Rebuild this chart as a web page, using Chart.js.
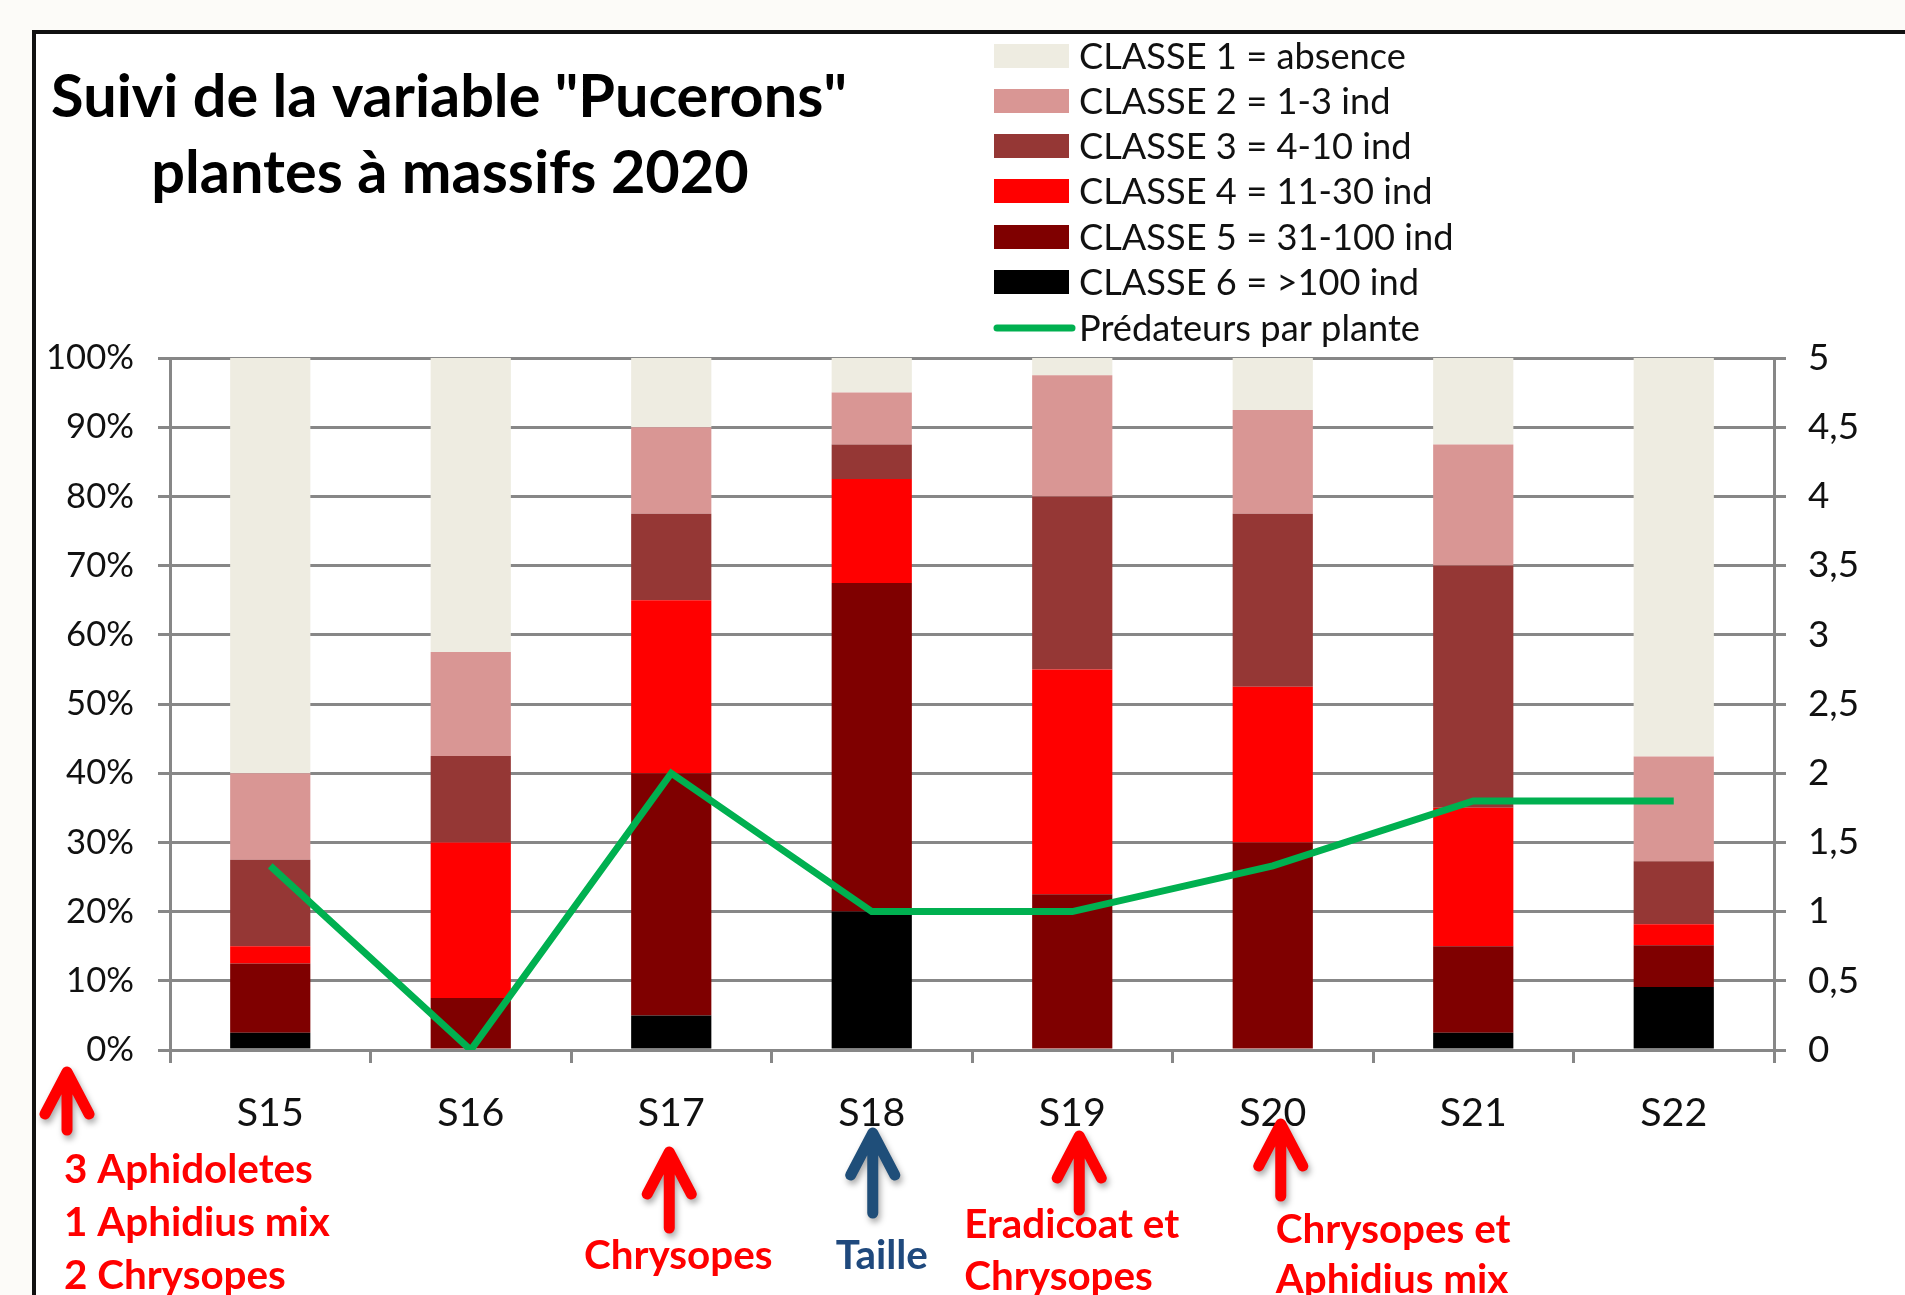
<!DOCTYPE html>
<html>
<head>
<meta charset="utf-8">
<script src="https://cdn.jsdelivr.net/npm/chart.js@4.4.1/dist/chart.umd.min.js"></script>
<style>
html,body{margin:0;padding:0;background:#fcfbf8;}
#wrap{width:1905px;height:1295px;position:relative;}
canvas{display:block;}
</style>
</head>
<body>
<div id="wrap"><canvas id="c" width="1905" height="1295"></canvas></div>
<script>
// ---- data ----
const categories = ['S15', 'S16', 'S17', 'S18', 'S19', 'S20', 'S21', 'S22'];
const classe1 = [60, 42.5, 10, 5, 2.5, 7.5, 12.5, 57.58];
const classe2 = [12.5, 15, 12.5, 7.5, 17.5, 15, 17.5, 15.15];
const classe3 = [12.5, 12.5, 12.5, 5, 25, 25, 35, 9.09];
const classe4 = [2.5, 22.5, 25, 15, 32.5, 22.5, 20, 3.03];
const classe5 = [10, 7.5, 35, 47.5, 22.5, 30, 12.5, 6.06];
const classe6 = [2.5, 0, 5, 20, 0, 0, 2.5, 9.09];
const predateurs = [1.33, 0, 2, 1, 1, 1.33, 1.8, 1.8];
const leftTicks = [0, 10, 20, 30, 40, 50, 60, 70, 80, 90, 100];
const rightTicks = [0, 0.5, 1, 1.5, 2, 2.5, 3, 3.5, 4, 4.5, 5];
const seriesLabels = ['CLASSE 1 = absence', 'CLASSE 2 = 1-3 ind', 'CLASSE 3 = 4-10 ind',
  'CLASSE 4 = 11-30 ind', 'CLASSE 5 = 31-100 ind', 'CLASSE 6 = >100 ind', 'Prédateurs par plante'];
const titleLines = ['Suivi de la variable "Pucerons"', 'plantes à massifs 2020'];

// ---- fonts ----
const FONT = 'Lato, "Open Sans", sans-serif';
const mctx = document.createElement('canvas').getContext('2d');
function fit(text, width, weight) {
  mctx.font = weight + ' 100px ' + FONT;
  return 100 * width / mctx.measureText(text).width;
}
const yTickSize = fit('100%', 88, 'normal');
const y1TickSize = fit('4,5', 51, 'normal');
const xTickSize = fit('S15', 67, 'normal');
const legendSize = fit('CLASSE 1 = absence', 327, 'normal');
const titleSize = fit(titleLines[0], 796, 'bold');
const noteSize = fit('3 Aphidoletes', 249, 'bold');

const colors = ['#eeece1', '#d99694', '#953735', '#ff0000', '#7f0000', '#000000'];
const GREEN = '#00b050';
const GRID = '#878787';

const barData = [classe6, classe5, classe4, classe3, classe2, classe1];
const barColors = [colors[5], colors[4], colors[3], colors[2], colors[1], colors[0]];
const barLabels = [seriesLabels[5], seriesLabels[4], seriesLabels[3], seriesLabels[2], seriesLabels[1], seriesLabels[0]];

const datasets = [{
  type: 'line', label: seriesLabels[6], data: predateurs, yAxisID: 'y1',
  borderColor: GREEN, backgroundColor: GREEN, borderWidth: 7, pointRadius: 0,
  tension: 0, order: 0, borderJoinStyle: 'miter', borderCapStyle: 'butt'
}];
barData.forEach((d, i) => datasets.push({
  type: 'bar', label: barLabels[i], data: d, yAxisID: 'y',
  backgroundColor: barColors[i], borderWidth: 0, order: 1,
  barPercentage: 0.4, categoryPercentage: 1.0
}));

function drawArrow(ctx, x, tipY, tailY, color) {
  ctx.save();
  ctx.strokeStyle = color; ctx.lineWidth = 11; ctx.lineCap = 'round'; ctx.lineJoin = 'round';
  ctx.shadowColor = 'rgba(0,0,0,0.35)'; ctx.shadowBlur = 6; ctx.shadowOffsetX = 2; ctx.shadowOffsetY = 4;
  ctx.beginPath();
  ctx.moveTo(x, tailY); ctx.lineTo(x, tipY + 6);
  ctx.moveTo(x - 22, tipY + 42); ctx.lineTo(x, tipY); ctx.lineTo(x + 22, tipY + 42);
  ctx.stroke();
  ctx.restore();
}

const decor = {
  id: 'decor',
  beforeDraw(chart) {
    const ctx = chart.ctx;
    ctx.save();
    ctx.fillStyle = '#fcfbf8';
    ctx.fillRect(0, 0, chart.width, chart.height);
    ctx.fillStyle = '#ffffff';
    ctx.fillRect(34, 32, chart.width, chart.height);
    ctx.restore();
  },
  afterDraw(chart) {
    const ctx = chart.ctx;
    const xs = chart.scales.x;
    ctx.save();
    // frame
    ctx.strokeStyle = '#111';
    ctx.lineWidth = 4;
    ctx.beginPath();
    ctx.moveTo(34, chart.height + 10); ctx.lineTo(34, 32); ctx.lineTo(chart.width + 10, 32);
    ctx.stroke();
    // title
    ctx.fillStyle = '#000';
    ctx.font = 'bold ' + titleSize + 'px ' + FONT;
    ctx.textAlign = 'center'; ctx.textBaseline = 'middle';
    ctx.fillText(titleLines[0], 449, 98);
    ctx.fillText(titleLines[1], 450, 174);
    // legend
    const rows = [56, 101, 146, 191, 237, 282, 328];
    ctx.font = legendSize + 'px ' + FONT;
    ctx.textAlign = 'left';
    const legendOrder = [6, 5, 4, 3, 2, 1, 0]; // dataset indices: classe1..classe6, line
    legendOrder.forEach((di, r) => {
      const ds = chart.data.datasets[di];
      const y = rows[r];
      if (ds.type === 'line') {
        ctx.strokeStyle = ds.borderColor; ctx.lineWidth = 7; ctx.lineCap = 'round';
        ctx.beginPath(); ctx.moveTo(997, y); ctx.lineTo(1072, y); ctx.stroke();
      } else {
        ctx.fillStyle = ds.backgroundColor;
        ctx.fillRect(994, y - 12, 75, 24);
      }
      ctx.fillStyle = '#111';
      ctx.fillText(ds.label, 1079, y + 1);
    });
    // annotations
    const cx = i => xs.getPixelForValue(i);
    drawArrow(ctx, 67, 1072, 1130, '#ff0000');
    drawArrow(ctx, cx(2) - 2, 1152, 1228, '#ff0000');
    drawArrow(ctx, cx(3) + 1, 1133, 1213, '#1f4e79');
    drawArrow(ctx, cx(4) + 7, 1136, 1210, '#ff0000');
    drawArrow(ctx, cx(5) + 8, 1124, 1196, '#ff0000');
    ctx.font = 'bold ' + noteSize + 'px ' + FONT;
    ctx.fillStyle = '#ff0000';
    ctx.textAlign = 'left';
    ctx.fillText('3 Aphidoletes', 64, 1170);
    ctx.fillText('1 Aphidius mix', 64, 1223);
    ctx.fillText('2 Chrysopes', 64, 1276);
    ctx.fillText('Eradicoat et', cx(4) - 108, 1225);
    ctx.fillText('Chrysopes', cx(4) - 108, 1277);
    ctx.fillText('Chrysopes et', cx(5) + 3, 1230);
    ctx.fillText('Aphidius mix', cx(5) + 3, 1280);
    ctx.textAlign = 'center';
    ctx.fillText('Chrysopes', cx(2) + 7, 1256);
    ctx.fillStyle = '#1f497d';
    ctx.fillText('Taille', cx(3) + 10, 1256);
    ctx.restore();
  }
};

new Chart(document.getElementById('c'), {
  data: { labels: categories, datasets },
  options: {
    responsive: false, maintainAspectRatio: false, animation: false, devicePixelRatio: 1,
    layout: { padding: { top: 358, bottom: 145, left: 0, right: 0 } },
    plugins: { legend: { display: false }, title: { display: false }, tooltip: { enabled: false } },
    scales: {
      x: {
        stacked: true,
        afterFit: s => { s.height = 100; },
        grid: { display: true, drawOnChartArea: false, drawTicks: true, tickLength: 13, offset: true, color: GRID, lineWidth: 3 },
        border: { display: true, color: GRID, width: 3 },
        ticks: { color: '#111', font: { family: FONT, size: xTickSize }, padding: 27 }
      },
      y: {
        stacked: true, position: 'left', min: 0, max: 100,
        afterFit: s => { s.width = 170; },
        afterBuildTicks: s => { s.ticks = leftTicks.map(v => ({ value: v })); },
        grid: { display: true, drawOnChartArea: true, drawTicks: true, tickLength: 12, color: GRID, lineWidth: 3 },
        border: { display: true, color: GRID, width: 3 },
        ticks: { color: '#111', font: { family: FONT, size: yTickSize }, padding: 24, callback: v => v + '%' }
      },
      y1: {
        stacked: false, position: 'right', min: 0, max: 5,
        afterFit: s => { s.width = 131; },
        afterBuildTicks: s => { s.ticks = rightTicks.map(v => ({ value: v })); },
        grid: { display: true, drawOnChartArea: false, drawTicks: true, tickLength: 12, color: GRID, lineWidth: 3 },
        border: { display: true, color: GRID, width: 3 },
        ticks: { color: '#111', font: { family: FONT, size: y1TickSize }, padding: 22, callback: v => String(v).replace('.', ',') }
      }
    }
  },
  plugins: [decor]
});
</script>
</body>
</html>
